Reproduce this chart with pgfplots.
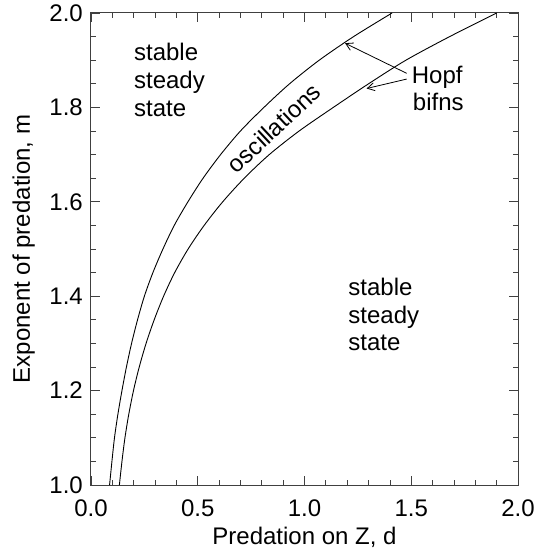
\documentclass[border=0pt]{standalone}
\usepackage{pgfplots}
\pgfplotsset{compat=1.18}
\usepackage{fontspec}
\setmainfont{Liberation Sans}
\usetikzlibrary{arrows.meta}
\newcommand\F{\fontsize{24bp}{28bp}\selectfont}
\begin{document}
\begin{tikzpicture}
\begin{axis}[
  at={(0,0)}, anchor=south west,
  scale only axis, width=427bp, height=472bp,
  xmin=0, xmax=2, ymin=1, ymax=2,
  xtick={0,0.5,1,1.5,2}, minor x tick num=4,
  ytick={1,1.2,1.4,1.6,1.8,2}, minor y tick num=3,
  tick align=inside,
  major tick length=9bp, minor tick length=5bp,
  axis line style={line width=1bp, black!75},
  every tick/.style={black!75, line width=0.8bp},
  /pgf/number format/assume math mode=true,
  x tick label style={/pgf/number format/.cd, fixed, fixed zerofill, precision=1, /tikz/.cd, font=\F, anchor=north, inner sep=0pt, yshift=-15bp},
  y tick label style={/pgf/number format/.cd, fixed, fixed zerofill, precision=1, /tikz/.cd, font=\F, anchor=east, inner sep=0pt, xshift=-8bp},
  every axis x label/.style={at={(axis description cs:0.5,-0.1271)}, anchor=base, font=\F},
  every axis y label/.style={at={(axis description cs:-0.1429,0.5)}, rotate=90, anchor=base, font=\F},
  xlabel={Predation on Z, d},
  ylabel={Exponent of predation, m},
  clip=false,
]
% upper Hopf bifurcation curve
\addplot[black, line width=0.9bp, smooth] coordinates {
 (0.087,1.00) (0.098,1.05) (0.110,1.10) (0.126,1.15) (0.145,1.20) (0.166,1.25)
 (0.190,1.30) (0.218,1.35) (0.250,1.40) (0.290,1.45) (0.337,1.50) (0.390,1.55)
 (0.454,1.60) (0.525,1.65) (0.607,1.70) (0.700,1.75) (0.810,1.80) (0.930,1.85)
 (1.069,1.90) (1.230,1.95) (1.410,2.00)};
% lower Hopf bifurcation curve
\addplot[black, line width=0.9bp, smooth] coordinates {
 (0.133,1.00) (0.145,1.05) (0.159,1.10) (0.177,1.15) (0.199,1.20) (0.226,1.25)
 (0.258,1.30) (0.296,1.35) (0.340,1.40) (0.392,1.45) (0.455,1.50) (0.530,1.55)
 (0.617,1.60) (0.718,1.65) (0.835,1.70) (0.975,1.75) (1.135,1.80) (1.300,1.85)
 (1.475,1.90) (1.680,1.95) (1.900,2.00)};

\node[font=\F, anchor=base west, inner sep=0pt] at (axis cs:0.201,1.899) {stable};
\node[font=\F, anchor=base west, inner sep=0pt] at (axis cs:0.201,1.840) {steady};
\node[font=\F, anchor=base west, inner sep=0pt] at (axis cs:0.201,1.780) {state};

\node[font=\F, anchor=base west, inner sep=0pt] at (axis cs:1.205,1.4025) {stable};
\node[font=\F, anchor=base west, inner sep=0pt] at (axis cs:1.205,1.3432) {steady};
\node[font=\F, anchor=base west, inner sep=0pt] at (axis cs:1.205,1.2839) {state};

\node[font=\F, anchor=base west, inner sep=0pt] at (axis cs:1.502,1.851) {Hopf};
\node[font=\F, anchor=base west, inner sep=0pt] at (axis cs:1.507,1.793) {bifns};

\node[font=\F, rotate=43, inner sep=0pt] at (axis cs:0.857,1.756) {oscillations};

\draw[line width=0.8bp, -{Straight Barb[length=7bp,width=8bp]}] (axis cs:1.4785,1.8722) -- (axis cs:1.190,1.936);
\draw[line width=0.8bp, -{Straight Barb[length=7bp,width=8bp]}] (axis cs:1.4785,1.860) -- (axis cs:1.291,1.840);
\end{axis}
\pgfresetboundingbox
\useasboundingbox (-91bp,-66bp) rectangle (444bp,485bp);
\end{tikzpicture}
\end{document}
